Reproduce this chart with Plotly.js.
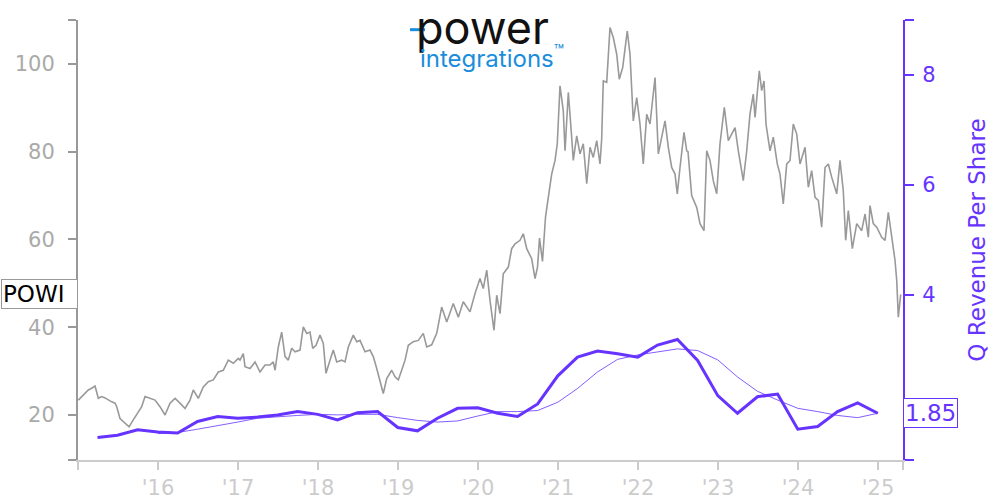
<!DOCTYPE html>
<html>
<head>
<meta charset="utf-8">
<script src="https://cdn.plot.ly/plotly-3.0.1.min.js"></script>
<style>html,body{margin:0;padding:0;background:#fff;}#chart{width:1000px;height:500px;}</style>
</head>
<body>
<div id="chart"></div>
<script>
// POWI share price (decimal year, USD)
var priceT = [2015.004,2015.066,2015.129,2015.171,2015.213,2015.254,2015.296,2015.338,2015.379,2015.421,2015.463,2015.484,2015.525,2015.588,2015.638,2015.691,2015.754,2015.796,2015.838,2015.900,2015.963,
2016.025,2016.088,2016.150,2016.213,2016.275,2016.338,2016.400,2016.441,2016.504,2016.566,2016.629,2016.691,2016.754,2016.816,2016.879,2016.941,
2017.004,2017.025,2017.066,2017.088,2017.150,2017.213,2017.275,2017.338,2017.400,2017.441,2017.463,2017.504,2017.546,2017.588,2017.629,2017.671,2017.713,2017.775,2017.816,2017.859,2017.900,2017.934,2017.975,
2018.025,2018.066,2018.100,2018.150,2018.191,2018.234,2018.296,2018.338,2018.379,2018.441,2018.484,2018.525,2018.588,2018.650,2018.691,2018.734,2018.775,2018.816,2018.859,2018.921,2018.963,
2019.004,2019.046,2019.088,2019.129,2019.191,2019.254,2019.316,2019.359,2019.421,2019.484,2019.546,2019.609,2019.691,2019.754,2019.816,2019.900,2019.963,
2020.025,2020.066,2020.109,2020.150,2020.200,2020.234,2020.275,2020.316,2020.379,2020.421,2020.463,2020.525,2020.566,2020.609,2020.671,2020.713,2020.744,2020.769,2020.806,2020.844,2020.879,2020.921,2020.963,2020.991,
2021.025,2021.066,2021.088,2021.129,2021.171,2021.191,2021.234,2021.275,2021.316,2021.359,2021.400,2021.441,2021.484,2021.525,2021.546,2021.566,2021.609,2021.650,2021.691,2021.734,2021.766,2021.809,2021.866,2021.900,2021.941,2021.984,
2022.025,2022.066,2022.109,2022.150,2022.213,2022.254,2022.296,2022.338,2022.379,2022.421,2022.463,2022.491,2022.525,2022.575,2022.609,2022.625,2022.671,2022.734,2022.775,2022.825,2022.859,2022.900,2022.941,2022.984,
2023.025,2023.079,2023.129,2023.171,2023.213,2023.254,2023.316,2023.359,2023.400,2023.441,2023.463,2023.516,2023.546,2023.575,2023.600,2023.650,2023.691,2023.741,2023.775,2023.816,2023.859,2023.900,2023.941,2023.984,
2024.025,2024.088,2024.129,2024.171,2024.213,2024.254,2024.296,2024.338,2024.379,2024.421,2024.484,2024.525,2024.566,2024.596,2024.629,2024.679,2024.734,2024.796,2024.838,2024.879,2024.900,2024.941,2024.984,
2025.046,2025.088,2025.129,2025.171,2025.213,2025.234,2025.254,2025.284];
var priceV = [23.4,24.5,25.7,26.1,26.6,23.8,24.2,23.9,23.4,23.0,22.7,21.9,19.2,18.1,17.3,18.9,20.8,21.9,24.2,23.8,23.4,
21.9,20.0,22.7,23.8,22.7,21.5,23.4,25.7,23.8,26.4,27.6,28.0,29.8,30.2,32.5,31.8,
32.9,32.5,34.0,31.0,30.6,32.1,29.8,31.4,31.4,32.1,30.2,35.5,38.9,33.3,32.5,35.2,34.4,34.8,40.1,38.6,38.9,35.2,35.9,
38.2,36.3,29.5,32.5,34.8,32.1,32.5,32.1,35.5,38.2,36.7,37.0,34.4,34.8,33.3,30.6,28.0,24.9,28.3,30.2,28.7,
28.0,30.2,32.5,35.9,36.7,37.0,38.6,35.5,36.0,38.6,44.6,41.2,45.4,42.3,45.8,43.5,47.7,
51.1,48.8,53.0,46.1,39.3,47.3,43.1,52.2,53.7,57.9,59.0,59.8,61.3,57.9,55.6,51.1,53.7,60.3,55.0,65.1,69.6,74.9,78.0,81.8,
95.0,89.3,80.2,93.5,83.3,78.0,83.6,79.5,81.8,72.7,81.0,78.7,82.5,77.2,82.9,96.1,95.8,108.3,106.0,102.2,96.5,99.2,107.5,102.2,87.0,92.3,
86.3,77.2,88.5,86.3,96.9,79.5,83.3,87.0,81.0,76.4,74.9,70.4,76.4,84.4,80.2,80.0,70.0,67.3,63.6,62.0,80.2,78.0,73.4,70.4,
81.8,90.1,82.5,84.0,85.5,80.2,73.4,80.2,88.6,93.1,87.8,98.4,93.9,96.1,86.3,80.2,83.3,77.2,74.9,68.1,77.2,78.0,86.3,84.0,
77.2,81.0,71.9,75.7,69.6,68.9,62.8,76.4,77.2,74.2,70.4,78.0,71.1,59.8,66.6,57.9,63.6,62.0,65.8,60.5,67.7,63.6,62.8,
60.5,59.8,66.2,60.5,55.2,50.7,42.3,47.5];

// Quarterly revenue per share
var qDates = ['2015-03-31','2015-06-30','2015-09-30','2015-12-31','2016-03-31','2016-06-30','2016-09-30','2016-12-31',
'2017-03-31','2017-06-30','2017-09-30','2017-12-31','2018-03-31','2018-06-30','2018-09-30','2018-12-31',
'2019-03-31','2019-06-30','2019-09-30','2019-12-31','2020-03-31','2020-06-30','2020-09-30','2020-12-31',
'2021-03-31','2021-06-30','2021-09-30','2021-12-31','2022-03-31','2022-06-30','2022-09-30','2022-12-31',
'2023-03-31','2023-06-30','2023-09-30','2023-12-31','2024-03-31','2024-06-30','2024-09-30','2024-12-31'];
var qRev = [1.41,1.45,1.55,1.51,1.49,1.70,1.79,1.76,1.78,1.82,1.88,1.83,1.73,1.86,1.88,1.59,
1.53,1.76,1.94,1.95,1.85,1.79,2.02,2.53,2.87,2.98,2.93,2.87,3.09,3.19,2.81,2.17,
1.85,2.15,2.20,1.56,1.61,1.88,2.04,1.85];
// Smoothed (thin) revenue line, starting at the 4th quarter
var avgDates = qDates.slice(3);
var avgRev = [1.48,1.50,1.56,1.62,1.69,1.76,1.79,1.81,1.83,1.82,1.83,1.83,1.77,1.72,1.69,1.71,1.80,1.88,1.88,1.90,
2.05,2.30,2.60,2.83,2.91,2.97,3.02,2.99,2.82,2.51,2.25,2.09,1.94,1.88,1.81,1.77,1.85];

var xTickVals = [2015,2016,2017,2018,2019,2020,2021,2022,2023,2024,2025,2025.3125];
var xTickText = ['',"'16","'17","'18","'19","'20","'21","'22","'23","'24","'25",''];
var yTickVals = [9.75,20,40,60,80,100,110];
var yTickText = ['','20','40','60','80','100',''];
var y2TickVals = [1,4,6,8,9];
var y2TickText = ['','4','6','8',''];
var ticker = 'POWI';
var lastRev = '1.85';

function toYear(s){
  var p = s.split('-').map(Number);
  var start = Date.UTC(p[0],0,1), end = Date.UTC(p[0]+1,0,1), d = Date.UTC(p[0],p[1]-1,p[2]);
  return p[0] + (d-start)/(end-start);
}
var qX = qDates.map(toYear), avgX = avgDates.map(toYear);

var purple = '#6633ff';
var FONT = 'DejaVu Sans';

var traces = [
  {x: priceT, y: priceV, type:'scatter', mode:'lines', line:{color:'#999999', width:1.6}, hoverinfo:'skip'},
  {x: avgX, y: avgRev, yaxis:'y2', type:'scatter', mode:'lines', line:{color:purple, width:0.8}, hoverinfo:'skip'},
  {x: qX, y: qRev, yaxis:'y2', type:'scatter', mode:'lines', line:{color:purple, width:3}, hoverinfo:'skip'}
];

var layout = {
  width:1000, height:500,
  margin:{l:78, r:97, t:20, b:40},
  paper_bgcolor:'#fff', plot_bgcolor:'#fff',
  showlegend:false,
  font:{family:FONT, size:21},
  xaxis:{
    type:'linear', range:[2015, 2025.3125], showgrid:false, zeroline:false,
    showline:true, linecolor:'#cccccc', linewidth:2,
    ticks:'outside', ticklen:8, tickwidth:2, tickcolor:'#cccccc',
    tickvals:xTickVals, ticktext:xTickText,
    tickfont:{color:'#cccccc', size:21, family:FONT}
  },
  yaxis:{
    range:[9.75,110], showgrid:false, zeroline:false,
    showline:true, linecolor:'#999999', linewidth:2,
    ticks:'outside', ticklen:8, tickwidth:2, tickcolor:'#999999',
    tickvals:yTickVals, ticktext:yTickText, ticklabelstandoff:9,
    tickfont:{color:'#aaaaaa', size:21, family:FONT}
  },
  yaxis2:{
    overlaying:'y', side:'right', range:[1,9], showgrid:false, zeroline:false,
    showline:true, linecolor:purple, linewidth:2,
    ticks:'outside', ticklen:9, tickwidth:2, tickcolor:purple,
    tickvals:y2TickVals, ticktext:y2TickText, ticklabelstandoff:4,
    tickfont:{color:purple, size:21, family:FONT},
    title:{text:'Q Revenue Per Share', font:{color:purple, size:23, family:FONT}, standoff:34}
  },
  annotations:[
    {xref:'paper', yref:'y', x:0, y:priceV[priceV.length-1], xanchor:'right', yanchor:'middle',
     text:ticker, showarrow:false, align:'left', width:73, font:{color:'#000', size:23, family:FONT},
     bgcolor:'#fff', bordercolor:'#999999', borderwidth:1, borderpad:1},
    {xref:'paper', yref:'y2', x:1, y:qRev[qRev.length-1], xanchor:'left', yanchor:'middle',
     text:lastRev, showarrow:false, font:{color:purple, size:23, family:FONT},
     bgcolor:'#fff', bordercolor:purple, borderwidth:1, borderpad:1},
    {xref:'paper', yref:'paper', x:0.490, y:0.982, xanchor:'center', yanchor:'middle',
     text:'power', showarrow:false, font:{color:'#111', size:45, family:'Inter'}},
    {xref:'paper', yref:'paper', x:0.502, y:0.915, xanchor:'center', yanchor:'middle',
     text:'integrations<sup>™</sup>', showarrow:false, font:{color:'#1a8ddb', size:24, family:'Inter'}}
  ],
  shapes:[
    {type:'line', xref:'paper', yref:'paper', x0:0.4024, x1:0.4206, y0:0.978, y1:0.978,
     line:{color:'#1a8ddb', width:3}}
  ]
};

Plotly.newPlot('chart', traces, layout, {displayModeBar:false, staticPlot:true});
</script>
</body>
</html>
